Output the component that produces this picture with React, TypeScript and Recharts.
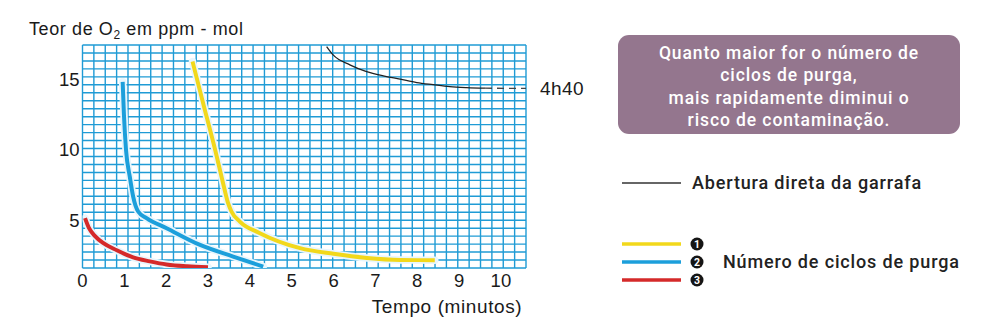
import React from "react";
import { LineChart, Line, XAxis, YAxis, CartesianGrid } from "recharts";

// ---- data ----
const X_TICKS = [0, 1, 2, 3, 4, 5, 6, 7, 8, 9, 10];
const Y_TICKS = [5, 10, 15];
const X_DOMAIN: [number, number] = [0, 10.6];
const Y_DOMAIN: [number, number] = [1.65, 17.4];
const GRID_COLS = 39;
const GRID_ROWS = 28;

const directOpening = [
  { t: 5.835, o2: 17.29 },
  { t: 5.99, o2: 16.7 },
  { t: 6.39, o2: 16.0 },
  { t: 6.79, o2: 15.52 },
  { t: 7.19, o2: 15.22 },
  { t: 7.59, o2: 14.99 },
  { t: 7.99, o2: 14.75 },
  { t: 8.38, o2: 14.6 },
  { t: 8.78, o2: 14.46 },
  { t: 9.18, o2: 14.39 },
  { t: 9.62, o2: 14.35 },
];
const directOpeningExtension = [
  { t: 9.62, o2: 14.35 },
  { t: 10.6, o2: 14.33 },
];
const purge1 = [
  { t: 2.63, o2: 16.23 },
  { t: 2.9, o2: 13.1 },
  { t: 3.17, o2: 10.0 },
  { t: 3.36, o2: 7.64 },
  { t: 3.48, o2: 6.23 },
  { t: 3.56, o2: 5.64 },
  { t: 3.76, o2: 4.93 },
  { t: 4.24, o2: 4.11 },
  { t: 5.2, o2: 3.05 },
  { t: 6.0, o2: 2.65 },
  { t: 6.8, o2: 2.36 },
  { t: 7.6, o2: 2.22 },
  { t: 8.42, o2: 2.2 },
];
const purge2 = [
  { t: 0.96, o2: 14.8 },
  { t: 0.99, o2: 12.5 },
  { t: 1.04, o2: 10.0 },
  { t: 1.13, o2: 8.1 },
  { t: 1.21, o2: 6.7 },
  { t: 1.33, o2: 5.64 },
  { t: 1.53, o2: 5.17 },
  { t: 2.01, o2: 4.46 },
  { t: 2.81, o2: 3.28 },
  { t: 3.6, o2: 2.46 },
  { t: 4.32, o2: 1.75 },
];
const purge3 = [
  { t: 0.06, o2: 5.17 },
  { t: 0.15, o2: 4.5 },
  { t: 0.3, o2: 3.9 },
  { t: 0.5, o2: 3.4 },
  { t: 0.82, o2: 2.9 },
  { t: 1.21, o2: 2.4 },
  { t: 1.61, o2: 2.12 },
  { t: 2.01, o2: 1.9 },
  { t: 2.5, o2: 1.77 },
  { t: 3.0, o2: 1.71 },
];

const PURGE_SERIES = [
  { key: "1", data: purge1, color: "#f2d81b" },
  { key: "2", data: purge2, color: "#1c9fdb" },
  { key: "3", data: purge3, color: "#d52a2a" },
];

const TITLE_PARTS = ["Teor de O", "2", " em ppm - mol"];
const X_LABEL = "Tempo (minutos)";
const END_LABEL = "4h40";
const NOTE_LINES = [
  "Quanto maior for o número de",
  "ciclos de purga,",
  "mais rapidamente diminui o",
  "risco de contaminação.",
];
const LEGEND_DIRECT = "Abertura direta da garrafa";
const LEGEND_PURGE = "Número de ciclos de purga";

const GRID_COLOR = "#1f9bd5";
const CHART_FONT = "'Liberation Sans', Arial, sans-serif";
const SIDE_FONT = "Roboto, 'Noto Sans', sans-serif";

const range = (n: number, a: number, b: number) =>
  Array.from({ length: n + 1 }, (_, i) => a + ((b - a) * i) / n);

const vGrid = range(GRID_COLS, X_DOMAIN[0], X_DOMAIN[1]);
const hGrid = range(GRID_ROWS, Y_DOMAIN[0], Y_DOMAIN[1]);

export default function App() {
  const tickStyle = { fontFamily: CHART_FONT, fontSize: 18.5, fill: "#1a1a1a" };
  return (
    <div
      style={{
        position: "absolute",
        left: 0,
        top: 0,
        width: 1000,
        height: 330,
        background: "#fff",
        overflow: "hidden",
      }}
    >
      <LineChart
        width={1000}
        height={330}
        margin={{ top: 45, right: 474, bottom: 32, left: 42.5 }}
      >
        <CartesianGrid
          stroke={GRID_COLOR}
          strokeWidth={1.4}
          verticalValues={vGrid}
          horizontalValues={hGrid}
        />
        <XAxis
          type="number"
          dataKey="t"
          domain={X_DOMAIN}
          ticks={X_TICKS}
          allowDataOverflow
          axisLine={false}
          tickLine={false}
          tickSize={0}
          tickMargin={6}
          height={30}
          tick={tickStyle}
          interval={0}
        />
        <YAxis
          type="number"
          dataKey="o2"
          domain={Y_DOMAIN}
          ticks={Y_TICKS}
          allowDataOverflow
          axisLine={false}
          tickLine={false}
          tickSize={0}
          tickMargin={3}
          width={40}
          tick={tickStyle}
          interval={0}
        />
        <Line
          data={directOpening}
          dataKey="o2"
          type="monotone"
          stroke="#222"
          strokeWidth={1.3}
          dot={false}
          isAnimationActive={false}
        />
        <Line
          data={directOpeningExtension}
          dataKey="o2"
          type="linear"
          stroke="#444"
          strokeWidth={1.3}
          strokeDasharray="7 5"
          dot={false}
          isAnimationActive={false}
        />
        {PURGE_SERIES.map((s) => (
          <Line
            key={"halo" + s.key}
            data={s.data}
            dataKey="o2"
            type="monotone"
            stroke="#e8f6fd"
            strokeWidth={7.5}
            strokeLinecap="round"
            dot={false}
            isAnimationActive={false}
          />
        ))}
        {PURGE_SERIES.map((s) => (
          <Line
            key={"line" + s.key}
            data={s.data}
            dataKey="o2"
            type="monotone"
            stroke={s.color}
            strokeWidth={4}
            dot={false}
            isAnimationActive={false}
          />
        ))}
      </LineChart>
      <svg
        width={1000}
        height={330}
        style={{ position: "absolute", left: 0, top: 0, pointerEvents: "none" }}
      >
        <text
          x={29}
          y={35}
          fontFamily={CHART_FONT}
          fontSize={18}
          letterSpacing={0.6}
          fill="#1a1a1a"
        >
          {TITLE_PARTS[0]}
          <tspan fontSize={12} dy={4}>
            {TITLE_PARTS[1]}
          </tspan>
          <tspan dy={-4}>{TITLE_PARTS[2]}</tspan>
        </text>
        <text
          x={447}
          y={313}
          textAnchor="middle"
          fontFamily={CHART_FONT}
          fontSize={19}
          letterSpacing={0.6}
          fill="#1a1a1a"
        >
          {X_LABEL}
        </text>
        <text
          x={540}
          y={95}
          fontFamily={CHART_FONT}
          fontSize={19}
          letterSpacing={0.4}
          fill="#1a1a1a"
        >
          {END_LABEL}
        </text>
        <rect x={618} y={35} width={342} height={99} rx={11} fill="#94768e" />
        {NOTE_LINES.map((l, i) => (
          <text
            key={i}
            x={789}
            y={58.5 + i * 22.5}
            textAnchor="middle"
            fontFamily={SIDE_FONT}
            fontWeight={500}
            fontSize={17.5}
            letterSpacing={0.9}
            fill="#fff"
          >
            {l}
          </text>
        ))}
        <line x1={622} x2={681} y1={183} y2={183} stroke="#333" strokeWidth={1.3} />
        <text
          x={692}
          y={189}
          fontFamily={SIDE_FONT}
          fontWeight={500}
          fontSize={18}
          letterSpacing={0.85}
          fill="#222"
        >
          {LEGEND_DIRECT}
        </text>
        {PURGE_SERIES.map((s, i) => (
          <g key={s.key}>
            <line
              x1={622}
              x2={681}
              y1={244 + i * 18}
              y2={244 + i * 18}
              stroke={s.color}
              strokeWidth={3.5}
            />
            <circle cx={697} cy={244 + i * 18} r={6.5} fill="#151515" />
            <text
              x={697}
              y={247.8 + i * 18}
              textAnchor="middle"
              fontFamily={SIDE_FONT}
              fontWeight={700}
              fontSize={10.5}
              fill="#fff"
            >
              {s.key}
            </text>
          </g>
        ))}
        <text
          x={723}
          y={268}
          fontFamily={SIDE_FONT}
          fontWeight={500}
          fontSize={18}
          letterSpacing={0.85}
          fill="#222"
        >
          {LEGEND_PURGE}
        </text>
      </svg>
    </div>
  );
}
